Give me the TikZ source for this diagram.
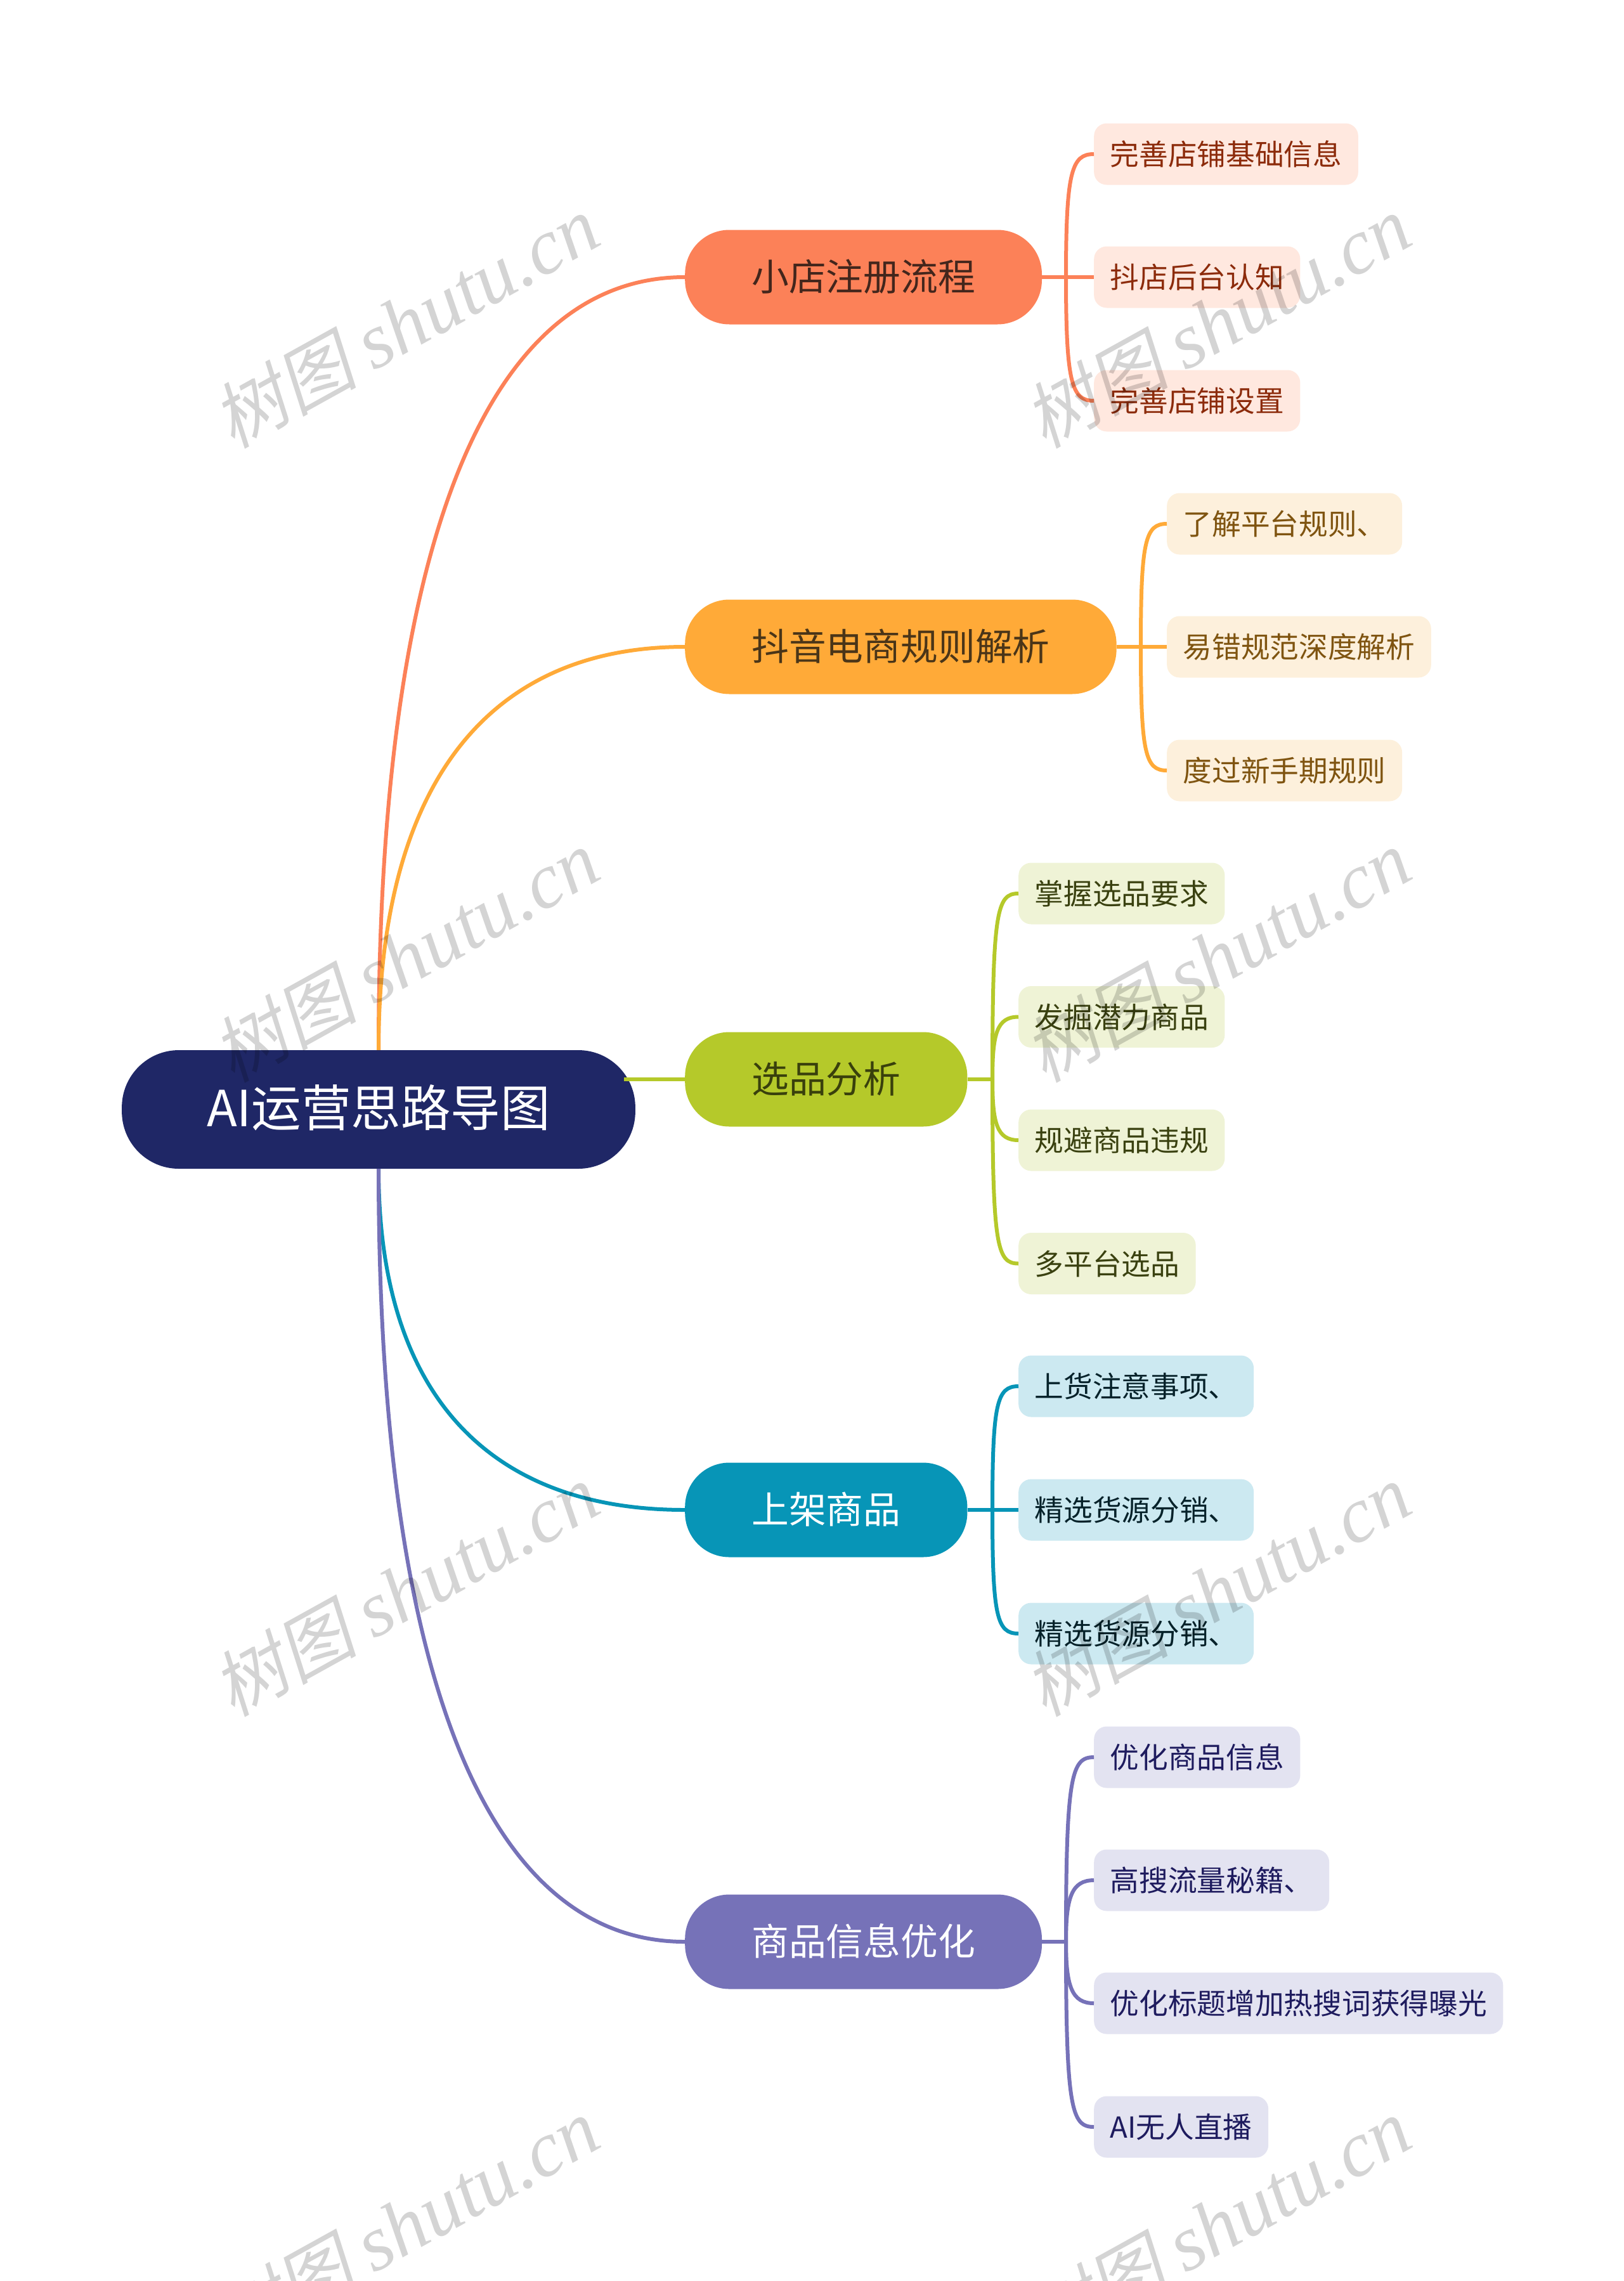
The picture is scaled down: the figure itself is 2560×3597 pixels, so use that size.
\documentclass[tikz,border=0pt]{standalone}
\usepackage{fontspec}
\setmainfont{Noto Sans CJK SC}
\newfontfamily\wmcjk[FakeSlant=0.2]{Noto Sans CJK SC}
\newfontfamily\wmlat{Liberation Serif}[ItalicFont=* Italic]
\definecolor{rootbg}{HTML}{1F2766}
\definecolor{regc}{HTML}{FC8158}
\definecolor{regl}{HTML}{FFE8DF}
\definecolor{regt}{HTML}{8C2B0B}
\definecolor{regd}{HTML}{43261C}
\definecolor{rulec}{HTML}{FFAA38}
\definecolor{rulel}{HTML}{FDF0DC}
\definecolor{rulet}{HTML}{7F5410}
\definecolor{ruled}{HTML}{4A3518}
\definecolor{pickc}{HTML}{B5C92A}
\definecolor{pickl}{HTML}{EFF3D6}
\definecolor{pickt}{HTML}{3A4110}
\definecolor{pickd}{HTML}{39400C}
\definecolor{shelfc}{HTML}{0795B7}
\definecolor{shelfl}{HTML}{CCE9F1}
\definecolor{shelft}{HTML}{06222A}
\definecolor{optc}{HTML}{7672B8}
\definecolor{optl}{HTML}{E3E3F1}
\definecolor{optt}{HTML}{1E1B5E}
\tikzset{
	rootnode/.style={fill=rootbg,text=white,rounded corners=90pt,inner xsep=134pt,inner ysep=0pt,minimum height=187pt,text height=66pt,text depth=12pt,font=\fontsize{78.5}{90}\selectfont},
	midnode/.style={anchor=west,rounded corners=70pt,inner xsep=105pt,inner ysep=0pt,minimum height=149pt,text height=50pt,text depth=8pt,font=\fontsize{58.8}{70}\selectfont},
	leafnode/.style={anchor=west,rounded corners=20pt,inner xsep=25.5pt,inner ysep=0pt,minimum height=97pt,text height=40.5pt,text depth=5.5pt,font=\fontsize{45.7}{56}\selectfont},
	link/.style={line width=6pt},
	mark wm/.style={rotate=29,text=black,opacity=.17}
}
\begin{document}
\begin{tikzpicture}[x=1pt,y=-1pt]
	\useasboundingbox (0,0) rectangle (2560,3597);
	\node [rootnode] (root) at (597,1749.5) {AI运营思路导图};
	\coordinate (rootr) at (984,1702);

	\node [midnode,fill=regc,text=regd] (reg) at (1080,437) {小店注册流程};
	\node [midnode,fill=rulec,text=ruled] (rule) at (1080,1020) {抖音电商规则解析};
	\node [midnode,fill=pickc,text=pickd] (pick) at (1080,1702) {选品分析};
	\node [midnode,fill=shelfc,text=white] (shelf) at (1080,2381) {上架商品};
	\node [midnode,fill=optc,text=white] (opt) at (1080,3062) {商品信息优化};

	\node [leafnode,fill=regl,text=regt] (reg1) at (1725,243) {完善店铺基础信息};
	\node [leafnode,fill=regl,text=regt] (reg2) at (1725,437) {抖店后台认知};
	\node [leafnode,fill=regl,text=regt] (reg3) at (1725,632) {完善店铺设置};

	\node [leafnode,fill=rulel,text=rulet] (rule1) at (1840,826) {了解平台规则、};
	\node [leafnode,fill=rulel,text=rulet] (rule2) at (1840,1020) {易错规范深度解析};
	\node [leafnode,fill=rulel,text=rulet] (rule3) at (1840,1215) {度过新手期规则};

	\node [leafnode,fill=pickl,text=pickt] (pick1) at (1606,1409) {掌握选品要求};
	\node [leafnode,fill=pickl,text=pickt] (pick2) at (1606,1603.5) {发掘潜力商品};
	\node [leafnode,fill=pickl,text=pickt] (pick3) at (1606,1798) {规避商品违规};
	\node [leafnode,fill=pickl,text=pickt] (pick4) at (1606,1992.5) {多平台选品};

	\node [leafnode,fill=shelfl,text=shelft] (shelf1) at (1606,2186) {上货注意事项、};
	\node [leafnode,fill=shelfl,text=shelft] (shelf2) at (1606,2381) {精选货源分销、};
	\node [leafnode,fill=shelfl,text=shelft] (shelf3) at (1606,2576) {精选货源分销、};

	\node [leafnode,fill=optl,text=optt] (opt1) at (1725,2771) {优化商品信息};
	\node [leafnode,fill=optl,text=optt] (opt2) at (1725,2965) {高搜流量秘籍、};
	\node [leafnode,fill=optl,text=optt] (opt3) at (1725,3159) {优化标题增加热搜词获得曝光};
	\node [leafnode,fill=optl,text=optt] (opt4) at (1725,3354) {AI无人直播};

	\draw [link,regc] (root.north) .. controls (597,851) and (770,437) .. (reg.west);
	\draw [link,rulec] (root.north) .. controls (597,1236) and (770,1020) .. (rule.west);
	\draw [link,pickc] (rootr) -- (pick.west);
	\draw [link,shelfc] (root.south) .. controls (597,2198) and (770,2381) .. (shelf.west);
	\draw [link,optc] (root.south) .. controls (597,2648) and (770,3062) .. (opt.west);

	\draw [link,regc] (reg.east) -- (reg2.west);
	\draw [link,regc] (1681,437) .. controls (1681,270) and (1690,243) .. (reg1.west);
	\draw [link,regc] (1681,437) .. controls (1681,604) and (1690,632) .. (reg3.west);

	\draw [link,rulec] (rule.east) -- (rule2.west);
	\draw [link,rulec] (1799,1020) .. controls (1799,853) and (1806,826) .. (rule1.west);
	\draw [link,rulec] (1799,1020) .. controls (1799,1188) and (1806,1215) .. (rule3.west);

	\draw [link,pickc] (pick.east) -- (1565,1702);
	\draw [link,pickc] (1565,1702) .. controls (1565,1436) and (1572,1409) .. (pick1.west);
	\draw [link,pickc] (1565,1702) .. controls (1565,1630) and (1572,1603.5) .. (pick2.west);
	\draw [link,pickc] (1565,1702) .. controls (1565,1771) and (1572,1798) .. (pick3.west);
	\draw [link,pickc] (1565,1702) .. controls (1565,1965) and (1572,1992.5) .. (pick4.west);

	\draw [link,shelfc] (shelf.east) -- (shelf2.west);
	\draw [link,shelfc] (1565,2381) .. controls (1565,2213) and (1572,2186) .. (shelf1.west);
	\draw [link,shelfc] (1565,2381) .. controls (1565,2549) and (1572,2576) .. (shelf3.west);

	\draw [link,optc] (opt.east) -- (1681,3062);
	\draw [link,optc] (1681,3062) .. controls (1681,2798) and (1690,2771) .. (opt1.west);
	\draw [link,optc] (1681,3062) .. controls (1681,2992) and (1690,2965) .. (opt2.west);
	\draw [link,optc] (1681,3062) .. controls (1681,3132) and (1690,3159) .. (opt3.west);
	\draw [link,optc] (1681,3062) .. controls (1681,3327) and (1690,3354) .. (opt4.west);

	\foreach \wx/\wy [count=\wn] in {640/508,1920/508,640/1508,1920/1508,640/2508,1920/2508,640/3508,1920/3508}
		\node [mark wm] (wm\wn) at (\wx,\wy) {\fontsize{114}{130}\selectfont{\wmcjk 树图} \fontsize{124}{130}\selectfont\wmlat\itshape shutu.cn};
\end{tikzpicture}
\end{document}
